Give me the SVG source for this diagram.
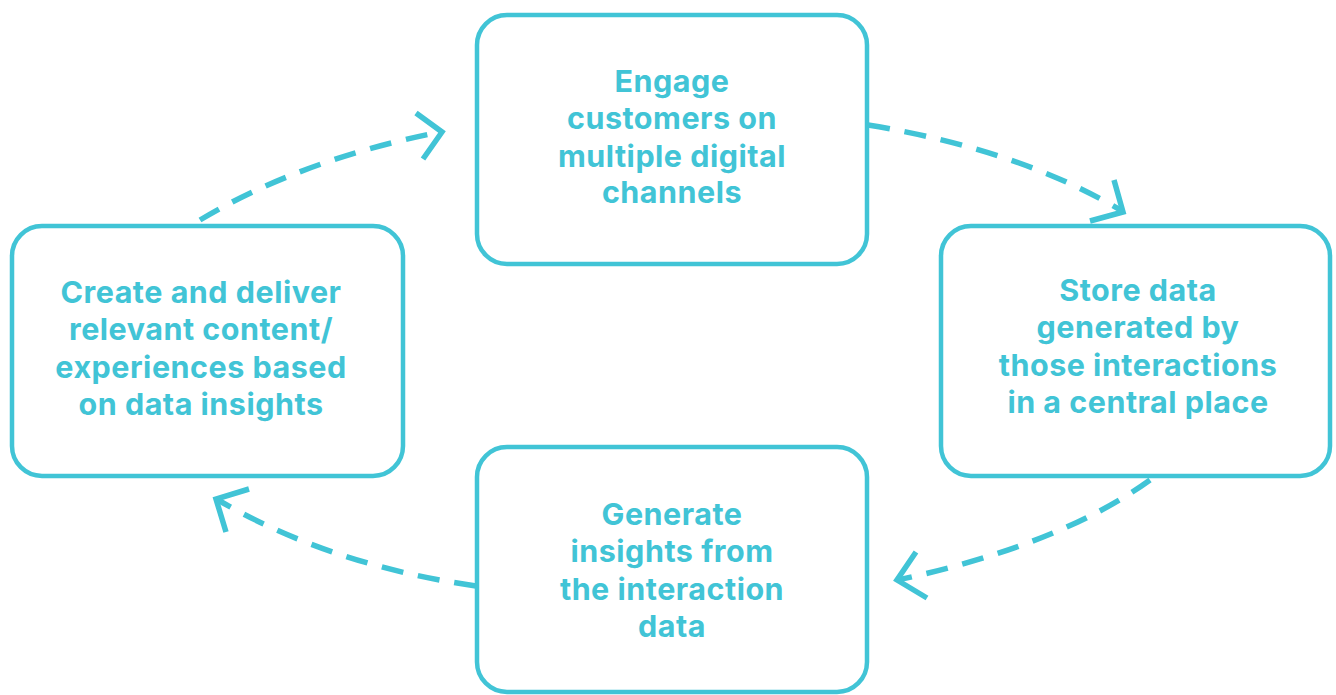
<svg xmlns="http://www.w3.org/2000/svg" width="1336" height="695" viewBox="0 0 1336 695">
<style>
.box{fill:#fff;stroke:#41c4d6;stroke-width:4.5}
.lbl{fill:#41c4d6;font-family:Inter,"Liberation Sans",sans-serif;font-weight:700;font-size:30.5px;letter-spacing:0.5px;text-anchor:middle}
.con{fill:none;stroke:#41c4d6;stroke-width:5.5;stroke-dasharray:22 15}
.head{fill:none;stroke:#41c4d6;stroke-width:5.5}
</style>
<rect width="1336" height="695" fill="#fff"/>
<g id="connectors">
<path class="con" d="M200 220 Q300 160 440 132"/>
<path class="head" d="M416 113 L442 132 L423 159"/>
<path class="con" d="M868 125 Q1020 150 1122 211"/>
<path class="head" d="M1114 180 L1123 212 L1090 221"/>
<path class="con" d="M1150 480 Q1060 545 898 580"/>
<path class="head" d="M916 552 L897 580 L927 598"/>
<path class="con" d="M476 586 Q330 565 218 500"/>
<path class="head" d="M249 489 L216 499 L226 532"/>
</g>
<g id="node-engage">
<rect class="box" x="477" y="15" width="390" height="249" rx="30"/>
<text class="lbl" x="672" y="92">Engage</text>
<text class="lbl" x="672" y="129">customers on</text>
<text class="lbl" x="672" y="167">multiple digital</text>
<text class="lbl" x="672" y="203">channels</text>
</g>
<g id="node-store">
<rect class="box" x="941" y="226" width="389" height="250" rx="30"/>
<text class="lbl" x="1138" y="301">Store data</text>
<text class="lbl" x="1138" y="338">generated by</text>
<text class="lbl" x="1138" y="376">those interactions</text>
<text class="lbl" x="1138" y="413">in a central place</text>
</g>
<g id="node-generate">
<rect class="box" x="477" y="447" width="390" height="245" rx="30"/>
<text class="lbl" x="672" y="525">Generate</text>
<text class="lbl" x="672" y="562">insights from</text>
<text class="lbl" x="672" y="600">the interaction</text>
<text class="lbl" x="672" y="637">data</text>
</g>
<g id="node-create">
<rect class="box" x="12" y="226" width="391" height="250" rx="30"/>
<text class="lbl" x="201" y="303">Create and deliver</text>
<text class="lbl" x="201" y="340">relevant content/</text>
<text class="lbl" x="201" y="378">experiences based</text>
<text class="lbl" x="201" y="415">on data insights</text>
</g>
</svg>
